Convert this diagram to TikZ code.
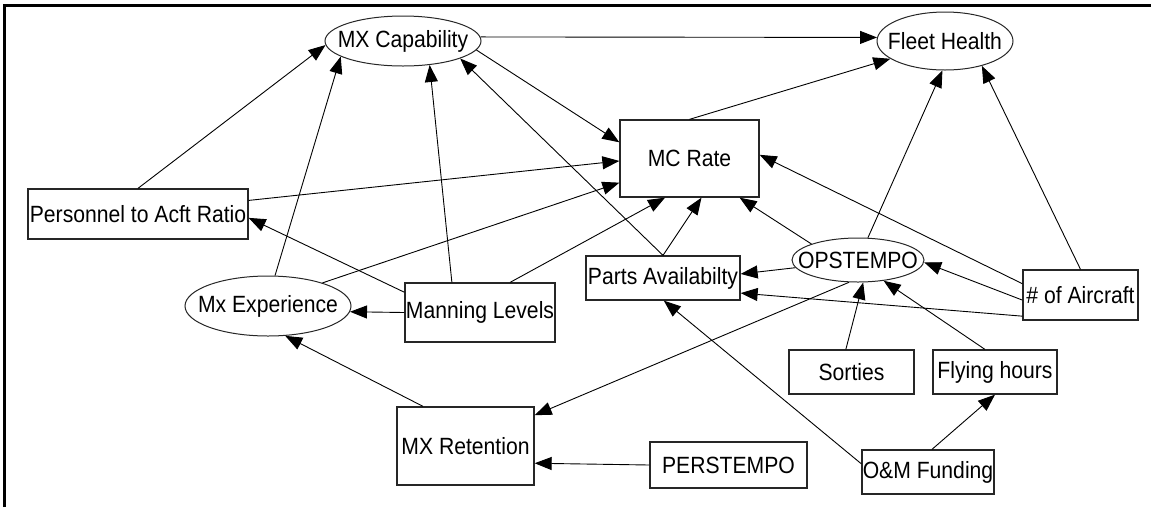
\documentclass[tikz,border=0pt]{standalone}
\usepackage{fontspec}
\setmainfont{Liberation Sans}[FakeStretch=0.9]
\usetikzlibrary{arrows.meta,shapes}
\newcommand{\tightlabel}[1]{\makebox[0pt]{#1}}

\begin{document}
\begin{tikzpicture}[x=1pt,y=-1pt,>={Triangle[length=17pt,width=13pt]},
    font=\fontsize{23.5}{26}\selectfont]
  \tikzstyle{factor}=[rectangle,draw=black!85,line width=1.3pt,inner sep=0pt]
  \tikzstyle{latent}=[ellipse,draw=black!85,line width=1pt,inner sep=0pt]
  \tikzstyle{link}=[->,line width=0.9pt]
  \useasboundingbox (0,0) rectangle (1151,507);
  \draw[line width=2.5pt] (4.7,507) -- (4.7,5.7) -- (1151,5.7);

  \node [latent,minimum width=156pt,minimum height=50pt] (mxcap) at (403,41) {\tightlabel{MX Capability}};
  \node [latent,minimum width=136pt,minimum height=58pt] (fleet) at (945,41) {\tightlabel{Fleet Health}};
  \node [factor,minimum width=139pt,minimum height=77pt] (mcrate) at (689.5,158.5) {MC Rate};
  \node [factor,minimum width=220pt,minimum height=50pt] (pers) at (138,214) {Personnel to Acft Ratio};
  \node [latent,minimum width=166pt,minimum height=60pt] (mxexp) at (268,306) {\tightlabel{Mx Experience}};
  \node [factor,minimum width=150pt,minimum height=59pt] (manning) at (480,312.5) {Manning Levels};
  \node [factor,minimum width=137pt,minimum height=78pt] (retention) at (465.5,446) {MX Retention};
  \node [factor,minimum width=154pt,minimum height=44pt] (parts) at (663,278) {Parts Availabilty};
  \node [latent,minimum width=132pt,minimum height=44pt] (opstempo) at (858,260) {\tightlabel{OPSTEMPO}};
  \node [factor,minimum width=115pt,minimum height=50pt] (aircraft) at (1080.5,295) {\# of Aircraft};
  \node [factor,minimum width=125pt,minimum height=44pt] (sorties) at (851.5,372) {Sorties};
  \node [factor,minimum width=124pt,minimum height=44pt] (flying) at (995,372) {Flying hours};
  \node [factor,minimum width=157pt,minimum height=46pt] (perstempo) at (728.5,465) {PERSTEMPO};
  \node [factor,minimum width=132pt,minimum height=44pt] (funding) at (928,472) {O\&M Funding};

  \path[link] (mxcap.3) edge (fleet.177)
              (mxcap.353) edge (mcrate.167)
              (mcrate.north) edge (fleet.198);
  \path[link] (pers.north) edge (mxcap.183)
              (pers.7) edge (mcrate.182);
  \path[link] (mxexp.77) edge (mxcap.194)
              (mxexp.23) edge (mcrate.199);
  \path[link] (manning.133) edge (mxcap.318)
              (manning.45) edge (mcrate.238)
              (manning.165) edge (pers.358)
              (manning.west) edge (mxexp.356);
  \path[link] (retention.137) edge (mxexp.300)
              (perstempo.west) edge (retention.346);
  \path[link] (parts.north) edge (mxcap.343)
              (parts.north) edge (mcrate.287);
  \path[link] (opstempo.248) edge (retention.24)
              (opstempo.161) edge (mcrate.322)
              (opstempo.66) edge (fleet.265)
              (opstempo.187) edge (parts.3);
  \path[link] (aircraft.169) edge (mcrate.3)
              (aircraft.north) edge (fleet.326)
              (aircraft.185) edge (opstempo.358)
              (aircraft.200) edge (parts.349);
  \path[link] (sorties.104) edge (opstempo.283)
              (flying.114) edge (opstempo.321)
              (funding.80) edge (flying.south)
              (funding.173) edge (parts.272);
\end{tikzpicture}
\end{document}
